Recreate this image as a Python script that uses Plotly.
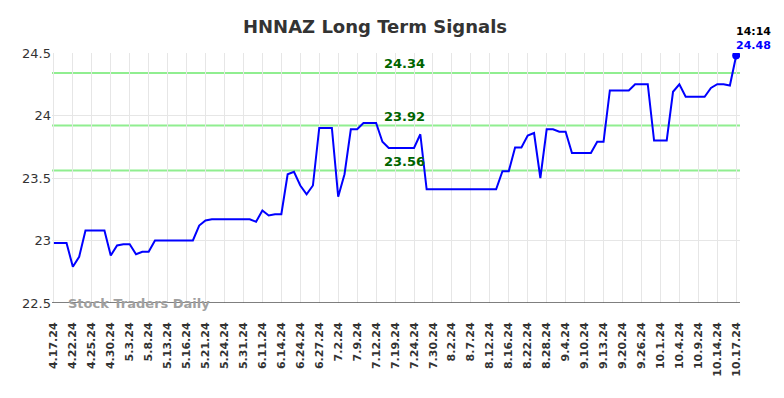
import plotly.graph_objects as go

dates = [
    "4.17.24", "4.18.24", "4.19.24", "4.22.24", "4.23.24", "4.24.24",
    "4.25.24", "4.26.24", "4.29.24", "4.30.24", "5.1.24", "5.2.24",
    "5.3.24", "5.6.24", "5.7.24", "5.8.24", "5.9.24", "5.10.24",
    "5.13.24", "5.14.24", "5.15.24", "5.16.24", "5.17.24", "5.20.24",
    "5.21.24", "5.22.24", "5.23.24", "5.24.24", "5.28.24", "5.29.24",
    "5.31.24", "6.5.24", "6.7.24", "6.11.24", "6.12.24", "6.13.24",
    "6.14.24", "6.17.24", "6.20.24", "6.24.24", "6.25.24", "6.26.24",
    "6.27.24", "6.28.24", "7.1.24", "7.2.24", "7.3.24", "7.8.24",
    "7.9.24", "7.10.24", "7.11.24", "7.12.24", "7.15.24", "7.17.24",
    "7.19.24", "7.22.24", "7.23.24", "7.24.24", "7.25.24", "7.29.24",
    "7.30.24", "7.31.24", "8.1.24", "8.2.24", "8.5.24", "8.6.24",
    "8.7.24", "8.8.24", "8.9.24", "8.12.24", "8.13.24", "8.15.24",
    "8.16.24", "8.19.24", "8.21.24", "8.22.24", "8.26.24", "8.27.24",
    "8.28.24", "8.30.24", "9.3.24", "9.4.24", "9.5.24", "9.9.24",
    "9.10.24", "9.11.24", "9.12.24", "9.13.24", "9.17.24", "9.19.24",
    "9.20.24", "9.23.24", "9.25.24", "9.26.24", "9.27.24", "9.30.24",
    "10.1.24", "10.2.24", "10.3.24", "10.4.24", "10.7.24", "10.8.24",
    "10.9.24", "10.10.24", "10.11.24", "10.14.24", "10.15.24", "10.16.24",
    "10.17.24",
]

prices = [
    22.98, 22.98, 22.98, 22.79, 22.87, 23.08, 23.08, 23.08, 23.08, 22.88,
    22.96, 22.97, 22.97, 22.89, 22.91, 22.91,
    23.00, 23.00, 23.00, 23.00, 23.00, 23.00, 23.00,
    23.12, 23.16,
    23.17, 23.17, 23.17, 23.17, 23.17, 23.17, 23.17,
    23.15, 23.24, 23.20, 23.21, 23.21,
    23.53, 23.55, 23.44, 23.37, 23.44,
    23.90, 23.90, 23.90,
    23.35, 23.53, 23.89, 23.89,
    23.94, 23.94, 23.94,
    23.79,
    23.74, 23.74, 23.74, 23.74, 23.74,
    23.85,
    23.41, 23.41, 23.41, 23.41, 23.41, 23.41, 23.41, 23.41, 23.41, 23.41, 23.41, 23.41,
    23.555, 23.555, 23.745, 23.745, 23.84, 23.86, 23.50, 23.89, 23.89, 23.87, 23.87,
    23.70, 23.70, 23.70, 23.70,
    23.79, 23.79,
    24.20, 24.20, 24.20, 24.20,
    24.25, 24.25, 24.25,
    23.80, 23.80, 23.80,
    24.19, 24.25,
    24.15, 24.15, 24.15, 24.15,
    24.22, 24.25, 24.25, 24.24, 24.48,
]

signal_levels = [24.34, 23.92, 23.56]
signal_labels = ["24.34", "23.92", "23.56"]
last_time = "14:14"
last_label = "24.48"
tick_labels = dates[::3]
y_ticks = [22.5, 23, 23.5, 24, 24.5]
y_tick_text = ["22.5", "23", "23.5", "24", "24.5"]

fig = go.Figure()

fig.add_trace(go.Scatter(
    x=dates, y=prices, mode="lines",
    line=dict(color="#0000FF", width=2), showlegend=False,
))
fig.add_trace(go.Scatter(
    x=[dates[-1]], y=[prices[-1]], mode="markers",
    marker=dict(color="#0000FF", size=8), showlegend=False,
))

for lvl, lab in zip(signal_levels, signal_labels):
    fig.add_shape(
        type="line", xref="paper", yref="y", x0=0, x1=1, y0=lvl, y1=lvl,
        line=dict(color="#90EE90", width=2), layer="below",
    )
    fig.add_annotation(
        x=0.5, xref="x domain", y=lvl, yref="y", text="<b>" + lab + "</b>",
        showarrow=False, yanchor="bottom", yshift=0, xshift=8,
        font=dict(family="DejaVu Sans", size=13, color="#006400"),
    )

fig.add_annotation(
    x=dates[-1], y=prices[-1], xref="x", yref="y", text="<b>" + last_time + "</b>",
    showarrow=False, yanchor="bottom", yshift=16, xshift=17,
    font=dict(family="DejaVu Sans", size=11, color="#000000"),
)
fig.add_annotation(
    x=dates[-1], y=prices[-1], xref="x", yref="y", text="<b>" + last_label + "</b>",
    showarrow=False, yanchor="bottom", yshift=2, xshift=17,
    font=dict(family="DejaVu Sans", size=11, color="#0000FF"),
)

fig.add_annotation(
    x=0.02, xref="paper", y=22.5, yref="y", text="<b>Stock Traders Daily</b>",
    showarrow=False, xanchor="left", yanchor="middle",
    font=dict(family="DejaVu Sans", size=13, color="#A0A0A0"),
)

fig.update_layout(
    width=784, height=398,
    margin=dict(l=52, r=44, t=53, b=95),
    paper_bgcolor="white", plot_bgcolor="white",
    title=dict(
        text="<b>HNNAZ Long Term Signals</b>", x=375 / 784, xanchor="center",
        y=1 - 27 / 398, yanchor="middle",
        font=dict(family="DejaVu Sans", size=18, color="#333333"),
    ),
    xaxis=dict(
        type="category", categoryorder="array", categoryarray=dates,
        range=[-0.3, len(dates) - 1 + 0.6],
        tickmode="array", tickvals=tick_labels,
        ticktext=["<b>" + t + "</b>" for t in tick_labels],
        tickangle=-90, showgrid=True, gridcolor="#E6E6E6", gridwidth=1,
        showline=False, zeroline=False, ticks="outside", ticklen=14, tickcolor="rgba(0,0,0,0)",
        tickfont=dict(family="DejaVu Sans", size=11, color="#333333"),
    ),
    yaxis=dict(
        range=[22.5, 24.5], tickmode="array", tickvals=y_ticks, ticktext=y_tick_text,
        showgrid=True, gridcolor="#E6E6E6", gridwidth=1, zeroline=False,
        showline=False, ticks="",
        tickfont=dict(family="DejaVu Sans", size=13, color="#333333"),
    ),
)

fig.add_shape(
    type="line", xref="paper", yref="y", x0=0, x1=1, y0=22.5, y1=22.5,
    line=dict(color="#555555", width=1.5), layer="above",
)

fig.write_html("out.html")
